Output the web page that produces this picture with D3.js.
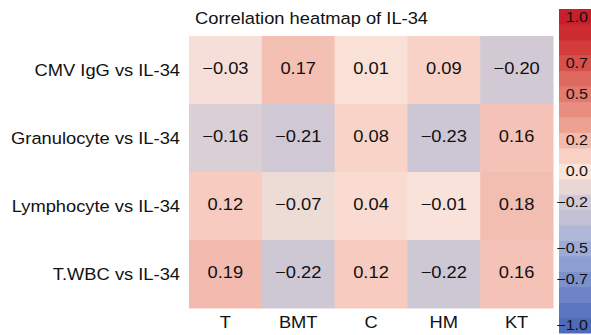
<!DOCTYPE html>
<html>
<head>
<meta charset="utf-8">
<script src="https://cdn.jsdelivr.net/npm/d3@7"></script>
<style>
  body { margin: 0; background: #fff; }
  svg { display: block; font-family: "Liberation Sans", Arial, sans-serif; }
</style>
</head>
<body>
<div id="chart"></div>
<script>
const rows = ['CMV IgG vs IL-34', 'Granulocyte vs IL-34', 'Lymphocyte vs IL-34', 'T.WBC vs IL-34'];
const cols = ['T', 'BMT', 'C', 'HM', 'KT'];

// correlation values, one array per row
const cmvIgG = [-0.03, 0.17, 0.01, 0.09, -0.20];
const granulocyte = [-0.16, -0.21, 0.08, -0.23, 0.16];
const lymphocyte = [0.12, -0.07, 0.04, -0.01, 0.18];
const twbc = [0.19, -0.22, 0.12, -0.22, 0.16];
const values = [cmvIgG, granulocyte, lymphocyte, twbc];

// colour bar: band centres and tick labels
const barSteps = d3.range(-10, 11).map(d => d / 10);
const barTicks = [1.0, 0.7, 0.5, 0.2, 0.0, -0.2, -0.5, -0.7, -1.0];

// palette stops (value -> colour)
const stopValues = [-1.0, -0.9, -0.8, -0.7, -0.6, -0.5, -0.4, -0.3, -0.2, -0.1, 0.0,
                    0.1, 0.2, 0.3, 0.4, 0.5, 0.6, 0.7, 0.8, 0.9, 1.0];
const stopColors = ['#4e6bba', '#5c77c1', '#6c83c6', '#7c90cc', '#8d9ed2', '#9eabd6', '#b0b7d9',
                    '#c4c0d6', '#d1c9d4', '#e8d7d5', '#fae3d9', '#f8d0c4', '#f2b9ad', '#eca193',
                    '#e88d80', '#e27a6e', '#de6a5f', '#d8504b', '#d43c3b', '#cd2b30', '#c8202b'];

const width = 591, height = 335;
// text in the picture is a little wider than it is tall
const stretch = 1.11;

const svg = d3.select('#chart')
  .append('svg')
  .attr('width', width)
  .attr('height', height);

const color = d3.scaleLinear()
  .domain(stopValues)
  .range(stopColors)
  .interpolate(d3.interpolateRgb)
  .clamp(true);

const x = d3.scaleBand()
  .domain(cols)
  .range([189, 553]);

const y = d3.scaleBand()
  .domain(rows)
  .range([36, 308]);

const cells = [];
rows.forEach((r, i) => {
  cols.forEach((c, j) => cells.push({ row: r, col: c, value: values[i][j] }));
});

const place = (px, py) => `translate(${px},${py}) scale(${stretch},1)`;

svg.selectAll('rect.cell')
  .data(cells)
  .enter()
  .append('rect')
  .attr('class', 'cell')
  .attr('x', d => x(d.col))
  .attr('y', d => y(d.row))
  .attr('width', x.bandwidth() + 0.5)
  .attr('height', y.bandwidth() + 0.5)
  .attr('fill', d => color(d.value));

svg.selectAll('text.val')
  .data(cells)
  .enter()
  .append('text')
  .attr('class', 'val')
  .attr('transform', d => place(x(d.col) + x.bandwidth() / 2, y(d.row) + y.bandwidth() / 2 + 4))
  .attr('text-anchor', 'middle')
  .style('font-size', '16.5px')
  .attr('fill', '#111')
  .text(d => d3.format('.2f')(d.value).replace('-', '\u2212'));

// row labels
svg.selectAll('text.rowlab')
  .data(rows)
  .enter()
  .append('text')
  .attr('class', 'rowlab')
  .attr('transform', d => place(x.range()[0] - 9, y(d) + y.bandwidth() / 2 + 6))
  .attr('text-anchor', 'end')
  .style('font-size', '16.5px')
  .attr('fill', '#111')
  .text(d => d);

// column labels
svg.selectAll('text.collab')
  .data(cols)
  .enter()
  .append('text')
  .attr('class', 'collab')
  .attr('transform', d => place(x(d) + x.bandwidth() / 2, 328))
  .attr('text-anchor', 'middle')
  .style('font-size', '16.5px')
  .attr('fill', '#111')
  .text(d => d);

svg.append('text')
  .attr('transform', place(x.range()[0] + 6, 24))
  .style('font-size', '16.5px')
  .attr('fill', '#111')
  .text('Correlation heatmap of IL-34');

// colour bar
const barY = d3.scaleLinear()
  .domain([1.05, -1.05])
  .range([9, 333]);

svg.selectAll('rect.band')
  .data(barSteps)
  .enter()
  .append('rect')
  .attr('class', 'band')
  .attr('x', 559)
  .attr('y', d => barY(d + 0.05))
  .attr('width', 40)
  .attr('height', barY(-0.05) - barY(0.05) + 0.5)
  .attr('fill', d => color(d));

svg.selectAll('text.tick')
  .data(barTicks)
  .enter()
  .append('text')
  .attr('class', 'tick')
  .attr('transform', d => place(588, barY(d) + 5))
  .attr('text-anchor', 'end')
  .style('font-size', '14.5px')
  .attr('fill', '#111')
  .text(d => d3.format('.1f')(d));
</script>
</body>
</html>
